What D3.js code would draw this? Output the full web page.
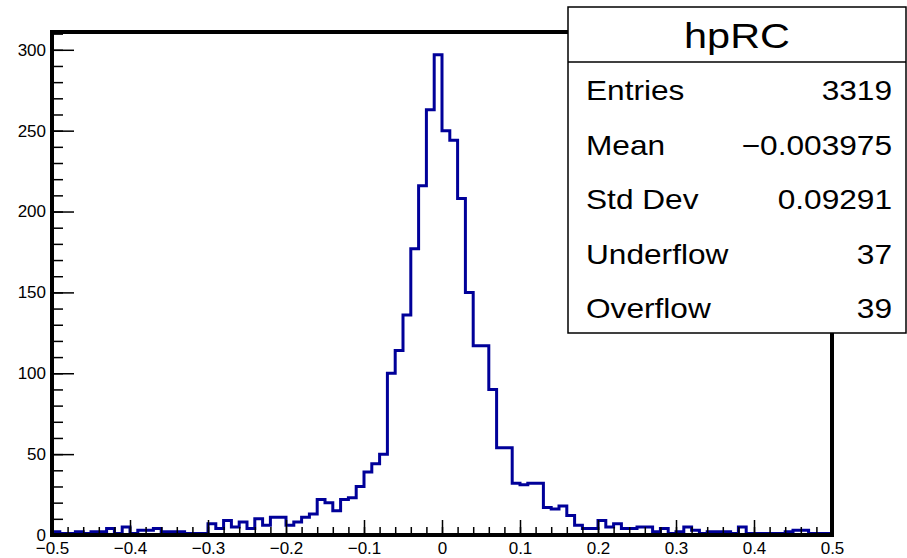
<!DOCTYPE html>
<meta charset="utf-8">
<style>
body { margin: 0; background: #fff; }
svg { display: block; font-family: "Liberation Sans", Arial, sans-serif; }
.axis path { display: none; }
.axis line { stroke: #000; stroke-width: 1.5; }
.axis text { font-size: 17px; fill: #000; }
.hist { fill: none; stroke: #000099; stroke-width: 3; }
</style>
<body>
<svg width="907" height="558"></svg>
<script src="https://d3js.org/d3.v7.min.js"></script>
<script>

// histogram hpRC: 100 bins from -0.5 to 0.5
var xLow = -0.5, xHigh = 0.5, nBins = 100;
var counts = [
  2,1,1,2,1,2,2,4,1,5, 1,3,3,4,2,2,2,1,1,1,
  7,4,9,5,8,4,10,6,11,11, 6,8,11,13,22,20,15,22,23,30,
  39,44,50,100,114,136,177,216,263,297, 250,244,208,150,117,117,90,54,54,32,
  31,32,32,17,16,18,12,6,4,4, 9,5,7,4,4,5,5,2,4,1,
  2,5,3,1,2,2,2,1,5,1, 1,1,1,1,2,3,3,1,1,1
];
var xTickValues = [-0.5, -0.4, -0.3, -0.2, -0.1, 0, 0.1, 0.2, 0.3, 0.4, 0.5];
var yTickValues = [0, 50, 100, 150, 200, 250, 300];
var statNames = ["Entries", "Mean", "Std Dev", "Underflow", "Overflow"];
var statValues = ["3319", "\u22120.003975", "0.09291", "37", "39"];
var histName = "hpRC";

var svg = d3.select("svg"),
    margin = {top: 32, right: 75, bottom: 23, left: 52},
    width = +svg.attr("width") - margin.left - margin.right,
    height = +svg.attr("height") - margin.top - margin.bottom;

var x = d3.scaleLinear().domain([xLow, xHigh]).range([0, width]),
    y = d3.scaleLinear().domain([0, 311]).range([height, 0]);

var g = svg.append("g")
    .attr("transform", "translate(" + margin.left + "," + margin.top + ")");

var binW = (xHigh - xLow) / nBins;
var pts = counts.map(function(c, i) { return [xLow + i * binW, c]; });
pts.push([xHigh, counts[counts.length - 1]]);

var line = d3.line()
    .x(function(d) { return x(d[0]); })
    .y(function(d) { return y(d[1]); })
    .curve(d3.curveStepAfter);

g.append("path")
    .attr("class", "hist")
    .attr("d", line(pts));

// minor ticks
g.append("g")
    .attr("class", "axis")
    .attr("transform", "translate(0," + height + ")")
    .call(d3.axisBottom(x).tickValues(d3.range(0, 51).map(function(i) { return xLow + i * 0.02; }))
      .tickSize(-8).tickFormat(""));
g.append("g")
    .attr("class", "axis")
    .call(d3.axisLeft(y).tickValues(d3.range(0, 32).map(function(i) { return i * 10; }))
      .tickSize(-11).tickFormat(""));

// major ticks + labels
g.append("g")
    .attr("class", "axis")
    .attr("transform", "translate(0," + height + ")")
    .call(d3.axisBottom(x).tickValues(xTickValues).tickSize(-15).tickPadding(7)
      .tickFormat(function(d) { return d === 0 ? "0" : d3.format(".1f")(d); }));
g.append("g")
    .attr("class", "axis")
    .call(d3.axisLeft(y).tickValues(yTickValues).tickSize(-22).tickPadding(6));

// frame
g.append("rect")
    .attr("x", 0).attr("y", 0)
    .attr("width", width).attr("height", height)
    .attr("fill", "none")
    .attr("stroke", "#000")
    .attr("stroke-width", 4);

// stats box
var box = {x: 568, y: 7, w: 338, h: 326, sep: 62};
var sb = svg.append("g");
sb.append("rect")
    .attr("x", box.x).attr("y", box.y)
    .attr("width", box.w).attr("height", box.h)
    .attr("fill", "#fff").attr("stroke", "#000").attr("stroke-width", 1.5);
sb.append("line")
    .attr("x1", box.x).attr("x2", box.x + box.w)
    .attr("y1", box.sep).attr("y2", box.sep)
    .attr("stroke", "#000").attr("stroke-width", 1.5);
sb.append("text")
    .attr("transform", "translate(" + (box.x + box.w / 2) + ",48) scale(1.15,1)")
    .attr("text-anchor", "middle")
    .style("font-size", "36px")
    .text(histName);

statNames.forEach(function(n, i) {
  var by = 100 + i * 54.6;
  sb.append("text")
      .attr("transform", "translate(586," + by + ") scale(1.13,1)")
      .style("font-size", "28px")
      .text(n);
  sb.append("text")
      .attr("transform", "translate(892," + by + ") scale(1.13,1)")
      .attr("text-anchor", "end")
      .style("font-size", "28px")
      .text(statValues[i]);
});

</script>
</body>
